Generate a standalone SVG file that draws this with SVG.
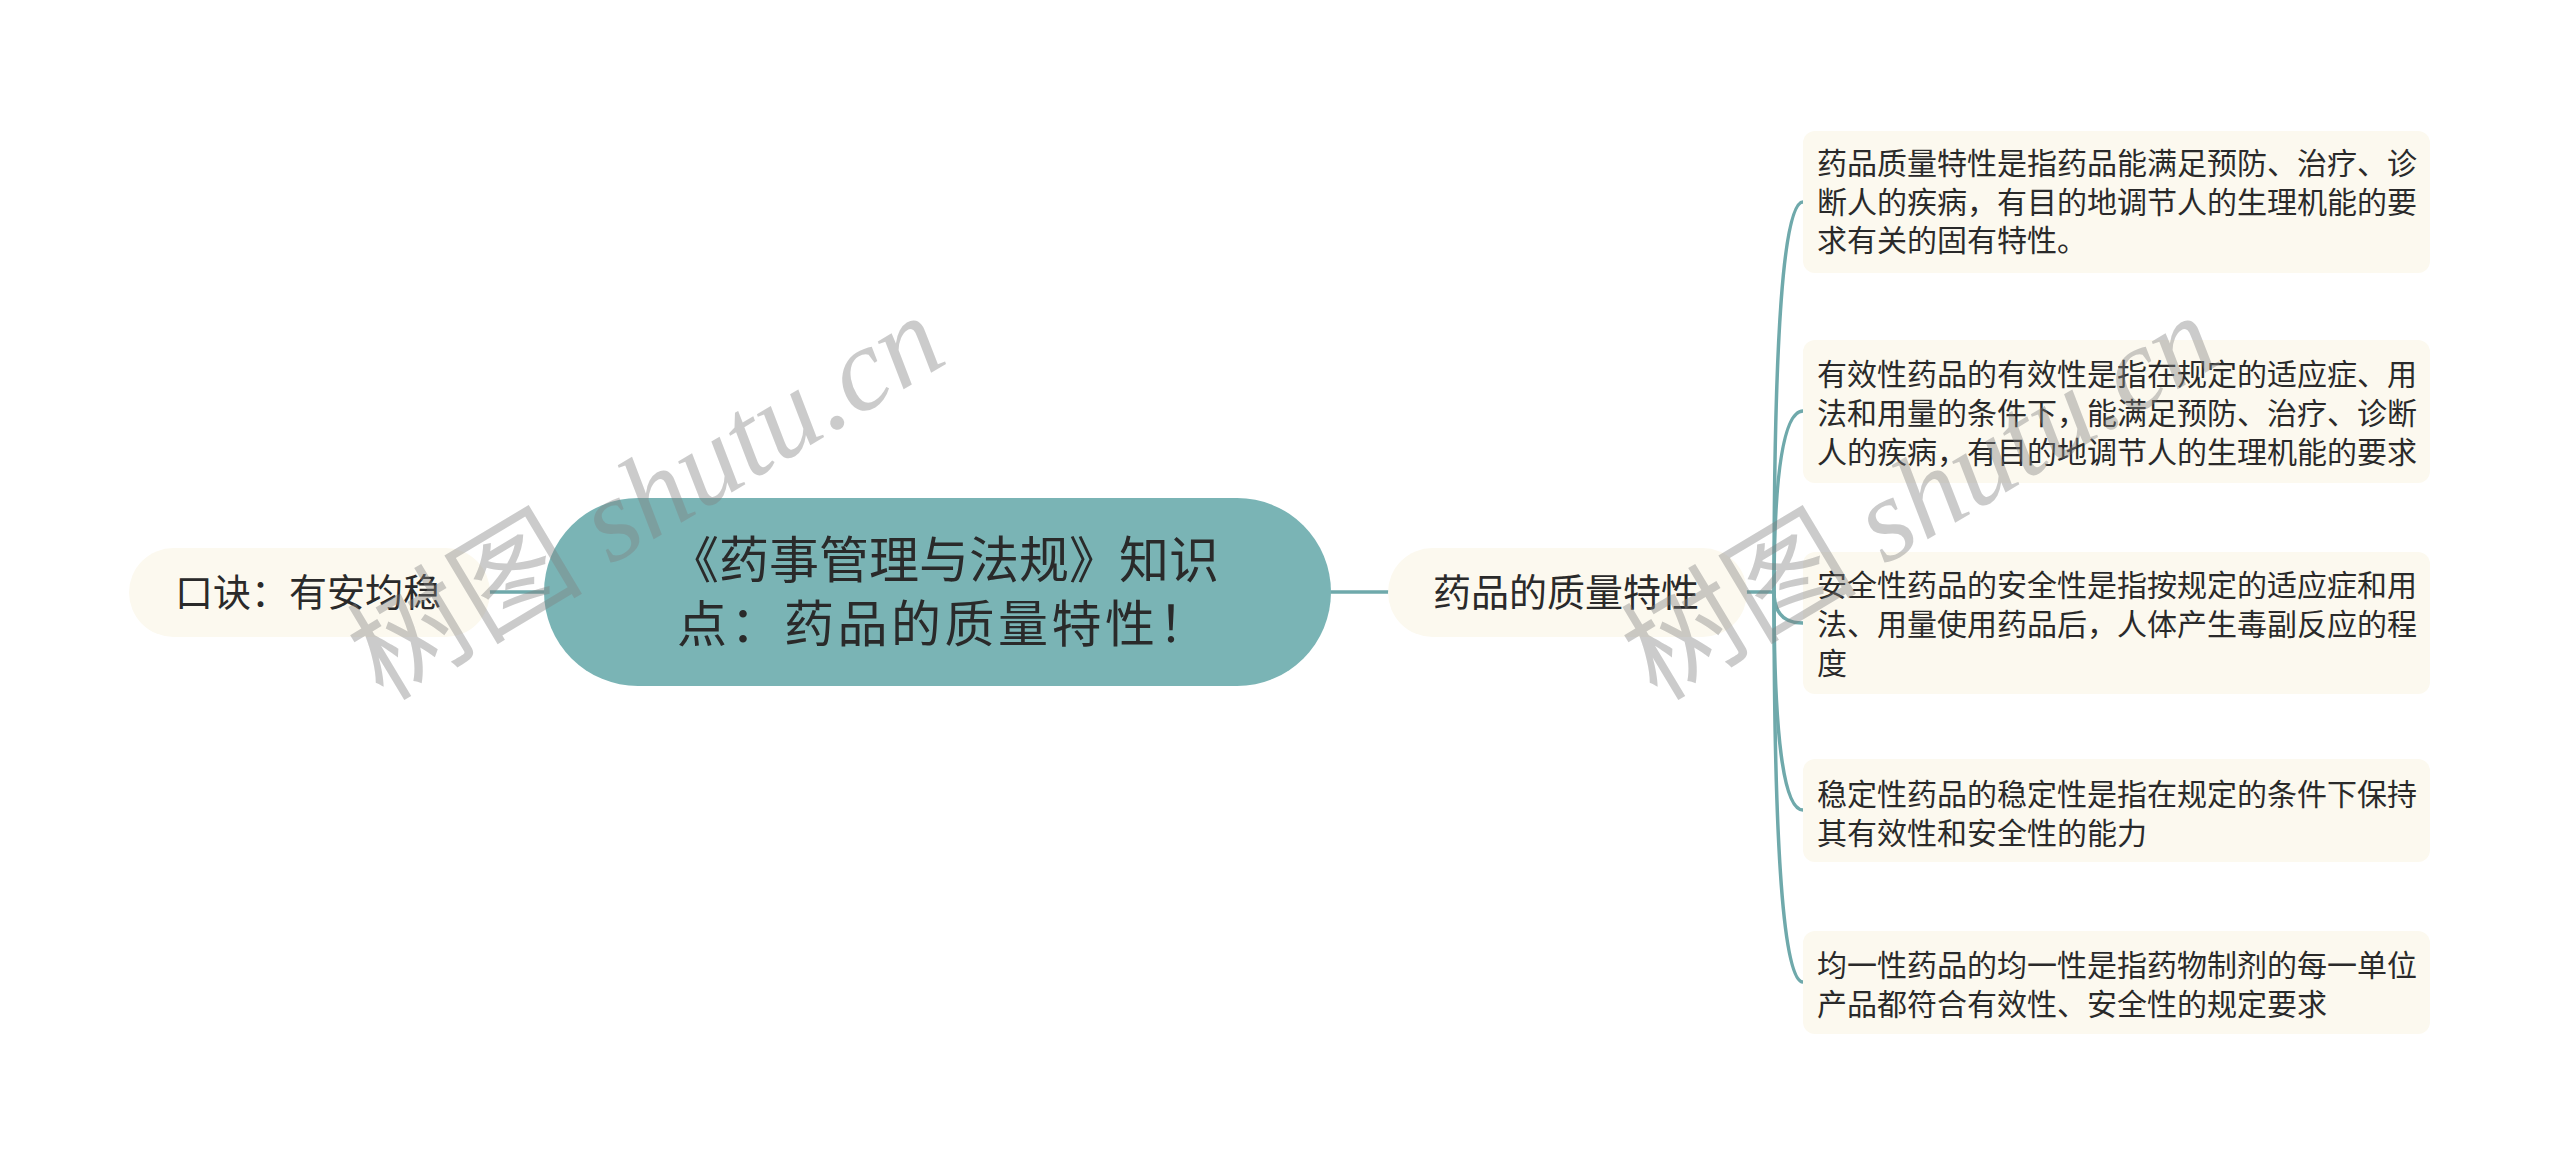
<svg xmlns="http://www.w3.org/2000/svg" width="2560" height="1165" viewBox="0 0 2560 1165">
  <style>
    .pill { fill: #fcf9ef; }
    .leafbox { fill: #fcf9ef; }
    .root { fill: #7ab4b5; }
    .t { font-family: "Noto Sans CJK SC", "Noto Sans", sans-serif; fill: #2a2a2a; }
    .t38 { font-size: 38px; }
    .t50 { font-size: 50px; }
    .t30 { font-size: 30px; }
    .conn { fill: none; stroke: #6fa9ab; stroke-width: 3.5; stroke-linecap: round; }
    .wm { font-size: 118px; fill: #808080; opacity: 0.4; }
  </style>
  <rect x="0" y="0" width="2560" height="1165" fill="#ffffff"/>

  <g id="connectors">
    <path class="conn" d="M 490 592 L 544 592"/>
    <path class="conn" d="M 1331 592 L 1388 592"/>
    <path class="conn" d="M 1747 592 L 1774 592"/>
    <path class="conn" d="M 1774 592 Q 1774 202 1803 202"/>
    <path class="conn" d="M 1774 592 Q 1774 411 1803 411"/>
    <path class="conn" d="M 1774 592 Q 1774 623 1803 623"/>
    <path class="conn" d="M 1774 592 Q 1774 810 1803 810"/>
    <path class="conn" d="M 1774 592 Q 1774 982 1803 982"/>
  </g>

  <g id="node-left">
    <rect class="pill" x="129" y="548" width="361" height="89" rx="44.5"/>
    <text class="t t38" x="175" y="606">口诀：有安均稳</text>
  </g>

  <g id="node-root">
    <rect class="root" x="544" y="498" width="787" height="188" rx="94"/>
    <text class="t t50" x="669" y="578">《药事管理与法规》知识</text>
    <text class="t t50" x="677" y="642" letter-spacing="3.5">点：药品的质量特性！</text>
  </g>

  <g id="node-branch">
    <rect class="pill" x="1388" y="548" width="359" height="89" rx="44.5"/>
    <text class="t t38" x="1433" y="606">药品的质量特性</text>
  </g>

  <g id="leaf-1">
    <rect class="leafbox" x="1803" y="131" width="627" height="142" rx="12"/>
    <text class="t t30" x="1817" y="174">药品质量特性是指药品能满足预防、治疗、诊</text>
    <text class="t t30" x="1817" y="213">断人的疾病，有目的地调节人的生理机能的要</text>
    <text class="t t30" x="1817" y="251">求有关的固有特性。</text>
  </g>

  <g id="leaf-2">
    <rect class="leafbox" x="1803" y="340" width="627" height="143" rx="12"/>
    <text class="t t30" x="1817" y="385">有效性药品的有效性是指在规定的适应症、用</text>
    <text class="t t30" x="1817" y="424">法和用量的条件下，能满足预防、治疗、诊断</text>
    <text class="t t30" x="1817" y="463">人的疾病，有目的地调节人的生理机能的要求</text>
  </g>

  <g id="leaf-3">
    <rect class="leafbox" x="1803" y="552" width="627" height="142" rx="12"/>
    <text class="t t30" x="1817" y="596">安全性药品的安全性是指按规定的适应症和用</text>
    <text class="t t30" x="1817" y="635">法、用量使用药品后，人体产生毒副反应的程</text>
    <text class="t t30" x="1817" y="674">度</text>
  </g>

  <g id="leaf-4">
    <rect class="leafbox" x="1803" y="759" width="627" height="103" rx="12"/>
    <text class="t t30" x="1817" y="805">稳定性药品的稳定性是指在规定的条件下保持</text>
    <text class="t t30" x="1817" y="844">其有效性和安全性的能力</text>
  </g>

  <g id="leaf-5">
    <rect class="leafbox" x="1803" y="931" width="627" height="103" rx="12"/>
    <text class="t t30" x="1817" y="976">均一性药品的均一性是指药物制剂的每一单位</text>
    <text class="t t30" x="1817" y="1015">产品都符合有效性、安全性的规定要求</text>
  </g>

  <g id="watermarks">
    <text class="wm" transform="translate(383,702) rotate(-31)"><tspan font-family="'Noto Sans CJK SC', sans-serif">树图</tspan><tspan font-family="'Liberation Serif', serif" font-style="italic"> shutu.cn</tspan></text>
    <text class="wm" transform="translate(1657,702) rotate(-31)"><tspan font-family="'Noto Sans CJK SC', sans-serif">树图</tspan><tspan font-family="'Liberation Serif', serif" font-style="italic"> shutu.cn</tspan></text>
  </g>
</svg>
